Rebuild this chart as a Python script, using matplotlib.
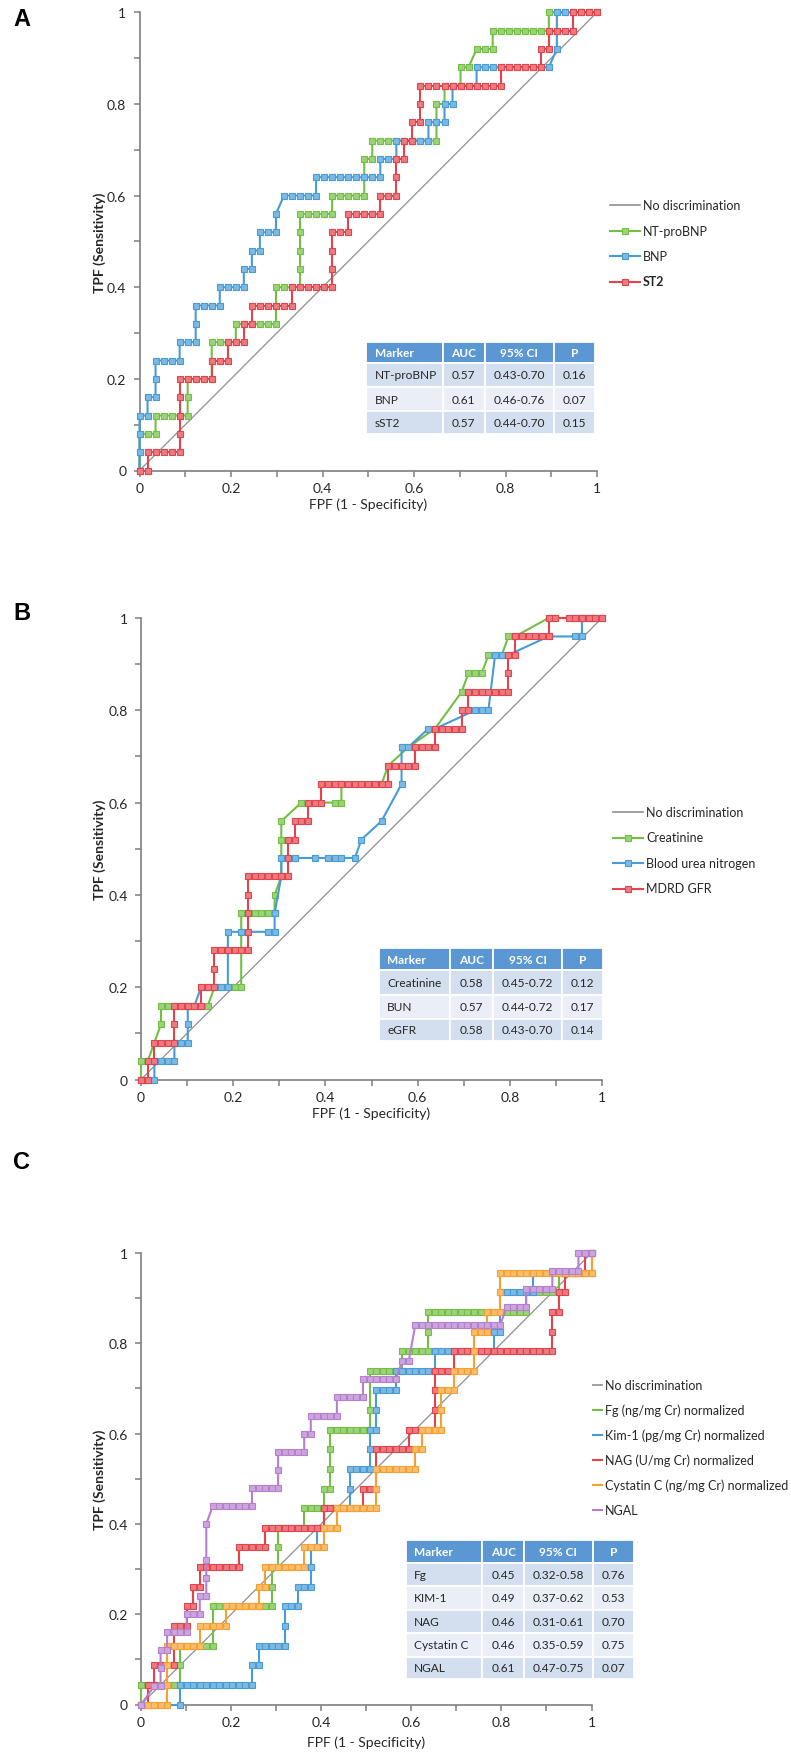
import numpy as np
import matplotlib
matplotlib.use('Agg')
import matplotlib.pyplot as plt
from matplotlib.patches import Rectangle
from matplotlib.colors import to_rgb

plt.rcParams['font.family'] = ['Lato', 'DejaVu Sans']

# ---- data: ROC points as (false positive count, true positive count) ----
# panel A: 57 negatives, 25 positives
a_nneg, a_npos = 57, 25
a_ntprobnp = [(0,0),(0,1),(0,2),(1,2),(2,2),(2,3),(3,3),(4,3),(5,3),(6,3),(6,4),(6,5),(7,5),(8,5),(9,5),(9,6),(9,7),
              (10,7),(11,7),(12,7),(12,8),(13,8),(14,8),(15,8),(16,8),(17,8),(17,9),(17,10),(18,10),(19,10),(20,10),
              (20,11),(20,12),(20,13),(20,14),(21,14),(22,14),(23,14),(24,14),(24,15),(25,15),(26,15),(27,15),(28,15),
              (28,16),(28,17),(29,17),(29,18),(30,18),(31,18),(32,18),(33,18),(34,18),(35,18),(36,18),(37,18),(37,19),
              (37,20),(38,20),(38,21),(39,21),(40,21),(40,22),(41,22),(42,23),(43,23),(44,23),(44,24),(45,24),(46,24),
              (47,24),(48,24),(49,24),(50,24),(51,24),(51,25),(52,25),(53,25),(54,25),(55,25),(56,25),(57,25)]
a_bnp = [(0,0),(0,1),(0,2),(0,3),(1,3),(1,4),(2,4),(2,5),(2,6),(3,6),(4,6),(5,6),(5,7),(6,7),(7,7),(7,8),(7,9),(8,9),
         (9,9),(10,9),(10,10),(11,10),(12,10),(13,10),(13,11),(14,11),(14,12),(15,12),(15,13),(16,13),(17,13),(17,14),
         (18,15),(19,15),(20,15),(21,15),(22,15),(22,16),(23,16),(24,16),(25,16),(26,16),(27,16),(28,16),(29,16),(30,16),
         (30,17),(31,17),(32,17),(32,18),(33,18),(34,18),(35,18),(36,18),(36,19),(37,19),(38,19),(38,20),(39,20),(39,21),
         (40,21),(41,21),(42,21),(42,22),(43,22),(44,22),(45,22),(46,22),(47,22),(48,22),(49,22),(50,22),(51,22),(52,23),
         (52,24),(52,25),(53,25),(54,25),(55,25),(56,25),(57,25)]
a_st2 = [(0,0),(1,0),(1,1),(2,1),(3,1),(4,1),(5,1),(5,2),(5,3),(5,4),(5,5),(6,5),(7,5),(8,5),(9,5),(9,6),(10,6),(11,6),
         (11,7),(12,7),(13,7),(13,8),(14,8),(14,9),(15,9),(16,9),(17,9),(18,9),(19,9),(19,10),(20,10),(21,10),(22,10),
         (23,10),(24,10),(24,11),(24,12),(24,13),(25,13),(26,13),(26,14),(27,14),(28,14),(29,14),(30,14),(30,15),(31,15),
         (32,15),(32,16),(32,17),(33,17),(33,18),(34,18),(34,19),(35,19),(35,20),(35,21),(36,21),(37,21),(38,21),(39,21),
         (40,21),(41,21),(42,21),(43,21),(44,21),(45,21),(45,22),(46,22),(47,22),(48,22),(49,22),(50,22),(50,23),(51,23),
         (51,24),(52,24),(53,24),(54,24),(54,25),(55,25),(56,25),(57,25)]

# panel B: 69 negatives, 25 positives
b_nneg, b_npos = 69, 25
b_creat = [(0,0),(0,1),(1,1),(2,2),(3,3),(3,4),(4,4),(5,4),(6,4),(7,4),(8,4),(9,4),(10,4),(11,5),(12,5),(13,5),(14,5),
           (15,5),(15,9),(16,9),(17,9),(18,9),(19,9),(20,9),(20,10),(21,11),(21,13),(21,14),(24,15),(29,15),(30,15),
           (30,16),(36,16),(37,17),(40,18),(44,19),(48,21),(49,22),(50,22),(51,22),(52,23),(53,23),(54,23),(55,24),
           (56,24),(61,25),(62,25),(65,25),(66,25),(67,25),(68,25),(69,25)]
b_bun = [(0,0),(1,0),(2,0),(2,1),(3,1),(4,1),(5,1),(5,2),(6,2),(7,2),(7,3),(7,4),(8,4),(9,5),(10,5),(12,5),(13,5),(13,7),
         (13,8),(15,8),(19,8),(20,8),(20,9),(21,11),(21,12),(23,12),(26,12),(28,12),(29,12),(30,12),(32,12),(33,13),
         (36,14),(39,16),(39,18),(40,18),(43,19),(44,19),(50,20),(51,20),(52,20),(53,23),(54,23),(55,23),(61,24),
         (65,24),(66,24),(66,25),(67,25),(68,25),(69,25)]
b_mdrd = [(0,0),(1,0),(1,1),(2,1),(2,2),(3,2),(4,2),(5,2),(5,3),(5,4),(6,4),(7,4),(8,4),(9,4),(9,5),(10,5),(11,5),(11,6),
          (11,7),(12,7),(13,7),(14,7),(15,7),(16,7),(16,8),(16,9),(16,10),(16,11),(17,11),(18,11),(19,11),(20,11),(21,11),
          (22,11),(22,12),(22,13),(23,13),(23,14),(24,14),(25,14),(25,15),(26,15),(27,15),(27,16),(28,16),(29,16),(30,16),
          (31,16),(32,16),(33,16),(34,16),(35,16),(36,16),(37,16),(37,17),(38,17),(39,17),(40,17),(41,17),(41,18),(42,18),
          (43,18),(44,18),(44,19),(45,19),(46,19),(47,19),(48,19),(48,20),(49,20),(49,21),(50,21),(51,21),(52,21),(53,21),
          (54,21),(55,21),(55,22),(55,23),(56,23),(56,24),(57,24),(58,24),(59,24),(60,24),(61,24),(61,25),(62,25),(64,25),
          (65,25),(66,25),(67,25),(68,25),(69,25)]

# panel C: 69 negatives, 23 positives (NGAL: 25 positives)
c_nneg, c_npos, c_npos_ngal = 69, 23, 25
c_fg = [(0,0),(0,1),(1,1),(2,1),(3,1),(4,1),(5,1),(6,1),(6,2),(6,3),(7,3),(8,3),(9,3),(10,3),(11,3),(11,4),(11,5),(12,5),
        (13,5),(14,5),(15,5),(16,5),(17,5),(18,5),(19,5),(20,5),(20,6),(20,7),(21,7),(21,8),(21,9),(22,9),(23,9),(24,9),
        (25,9),(25,10),(26,10),(27,10),(28,10),(28,11),(29,11),(29,12),(29,13),(29,14),(30,14),(31,14),(32,14),(33,14),
        (34,14),(35,14),(35,15),(35,17),(36,17),(37,17),(38,17),(39,17),(40,17),(40,18),(41,18),(42,18),(43,18),(44,18),
        (44,19),(44,20),(45,20),(46,20),(47,20),(48,20),(49,20),(50,20),(51,20),(52,20),(53,20),(54,20),(55,20),(56,20),
        (57,20),(58,20),(59,20),(59,21),(60,21),(61,21),(62,21),(63,21),(64,21),(64,22),(65,22),(66,22),(67,22),(68,22),
        (69,22),(69,23)]
c_kim1 = [(0,0),(6,0),(6,1),(7,1),(8,1),(9,1),(10,1),(11,1),(12,1),(13,1),(14,1),(15,1),(16,1),(17,1),(17,2),(18,2),(18,3),
          (19,3),(20,3),(21,3),(22,3),(22,4),(22,5),(23,5),(24,5),(24,6),(25,6),(26,6),(26,7),(26,8),(27,8),(27,9),(28,9),
          (28,10),(29,10),(30,10),(31,10),(32,10),(32,11),(32,12),(33,12),(34,12),(35,12),(35,13),(35,14),(36,14),(36,15),
          (36,16),(37,16),(38,16),(39,16),(39,17),(40,17),(41,17),(42,17),(43,17),(44,17),(45,17),(45,18),(46,18),(47,18),
          (48,18),(49,18),(50,18),(51,18),(52,18),(53,18),(54,18),(54,19),(55,19),(55,21),(56,21),(57,21),(58,21),(59,21),
          (60,21),(60,22),(61,22),(62,22),(63,22),(64,22),(65,22),(66,22),(67,22),(68,22),(69,22),(69,23)]
c_nag = [(0,0),(1,0),(1,1),(2,1),(2,2),(3,2),(4,2),(5,2),(5,3),(5,4),(6,4),(7,4),(7,5),(8,5),(8,6),(9,6),(9,7),(10,7),(11,7),
         (12,7),(13,7),(14,7),(15,7),(15,8),(16,8),(17,8),(18,8),(19,8),(19,9),(20,9),(21,9),(22,9),(23,9),(24,9),(25,9),
         (26,9),(27,9),(28,9),(28,10),(29,10),(30,10),(31,10),(32,10),(33,10),(34,10),(34,11),(35,11),(36,11),(36,12),
         (36,13),(37,13),(38,13),(39,13),(40,13),(41,13),(41,14),(42,14),(43,14),(44,14),(45,14),(45,15),(45,16),(45,17),
         (46,17),(47,17),(48,17),(48,18),(49,18),(50,18),(51,18),(52,18),(53,18),(54,18),(55,18),(56,18),(57,18),(58,18),
         (59,18),(60,18),(61,18),(62,18),(63,18),(63,19),(63,20),(64,20),(64,21),(65,21),(65,22),(66,22),(67,22),(68,22),
         (68,23),(69,23)]
c_cysc = [(0,0),(1,0),(2,0),(3,0),(4,0),(4,1),(4,2),(4,3),(5,3),(6,3),(7,3),(8,3),(9,3),(9,4),(10,4),(11,4),(12,4),(13,4),
          (13,5),(14,5),(15,5),(16,5),(17,5),(18,5),(18,6),(19,6),(19,7),(20,7),(21,7),(22,7),(23,7),(24,7),(25,7),(25,8),
          (26,8),(27,8),(28,8),(28,9),(29,9),(30,9),(30,10),(31,10),(32,10),(33,10),(34,10),(35,10),(36,10),(36,11),(36,12),
          (37,12),(38,12),(39,12),(40,12),(41,12),(42,12),(42,13),(43,13),(43,14),(44,14),(45,14),(46,14),(46,15),(46,16),
          (47,16),(48,16),(48,17),(49,17),(50,17),(51,17),(51,18),(51,19),(52,19),(53,19),(53,20),(54,20),(55,20),(55,21),
          (55,22),(56,22),(57,22),(58,22),(59,22),(60,22),(61,22),(62,22),(63,22),(64,22),(65,22),(66,22),(67,22),(68,22),
          (69,22),(69,23)]
c_ngal = [(0,0),(2,1),(3,1),(3,2),(3,3),(4,3),(4,4),(5,4),(6,4),(7,4),(7,5),(8,5),(9,5),(9,6),(10,6),(10,7),(10,8),(10,10),
          (11,11),(12,11),(13,11),(14,11),(15,11),(16,11),(17,11),(17,12),(18,12),(19,12),(20,12),(21,12),(21,13),(21,14),
          (22,14),(23,14),(24,14),(25,14),(25,15),(26,15),(26,16),(27,16),(28,16),(29,16),(30,16),(30,17),(31,17),(32,17),
          (33,17),(34,17),(34,18),(35,18),(36,18),(37,18),(38,18),(39,18),(40,19),(41,19),(42,21),(43,21),(44,21),(45,21),
          (46,21),(47,21),(48,21),(49,21),(50,21),(51,21),(52,21),(53,21),(54,21),(55,21),(56,22),(57,22),(58,22),(59,22),
          (59,23),(60,23),(61,23),(62,23),(63,23),(63,24),(64,24),(65,24),(66,24),(67,24),(67,25),(68,25),(69,25)]

table_head = ['Marker', 'AUC', '95% CI', 'P']
table_a = [['NT-proBNP', '0.57', '0.43-0.70', '0.16'],
           ['BNP', '0.61', '0.46-0.76', '0.07'],
           ['sST2', '0.57', '0.44-0.70', '0.15']]
table_b = [['Creatinine', '0.58', '0.45-0.72', '0.12'],
           ['BUN', '0.57', '0.44-0.72', '0.17'],
           ['eGFR', '0.58', '0.43-0.70', '0.14']]
table_c = [['Fg', '0.45', '0.32-0.58', '0.76'],
           ['KIM-1', '0.49', '0.37-0.62', '0.53'],
           ['NAG', '0.46', '0.31-0.61', '0.70'],
           ['Cystatin C', '0.46', '0.35-0.59', '0.75'],
           ['NGAL', '0.61', '0.47-0.75', '0.07']]

legend_a = ['No discrimination', 'NT-proBNP', 'BNP', 'ST2']
legend_b = ['No discrimination', 'Creatinine', 'Blood urea nitrogen', 'MDRD GFR']
legend_c = ['No discrimination', 'Fg (ng/mg Cr) normalized', 'Kim-1 (pg/mg Cr) normalized',
            'NAG (U/mg Cr) normalized', 'Cystatin C (ng/mg Cr) normalized', 'NGAL']

GREEN, BLUE, RED, ORANGE, PURPLE = '#72bf44', '#479bd6', '#e3434b', '#f7a030', '#b67ecf'
GRAY = '#8f8f8f'
AXC = '#7f7f7f'
TXT = '#262626'

W, H = 791, 1756
fig = plt.figure(figsize=(W / 100, H / 100), dpi=100)


def light(c, f=0.3):
    r, g, b = to_rgb(c)
    return (r + (1 - r) * f, g + (1 - g) * f, b + (1 - b) * f)


def make_ax(left, right, top, bottom, xlab_gap):
    ax = fig.add_axes([left / W, 1 - bottom / H, (right - left) / W, (bottom - top) / H])
    ax.set_xlim(0, 1)
    ax.set_ylim(0, 1)
    for s in ['top', 'right']:
        ax.spines[s].set_visible(False)
    for s in ['left', 'bottom']:
        ax.spines[s].set_color(AXC)
        ax.spines[s].set_linewidth(1.2)
    ticks = [0, 0.2, 0.4, 0.6, 0.8, 1]
    labs = ['0', '0.2', '0.4', '0.6', '0.8', '1']
    ax.set_xticks(ticks, labs)
    ax.set_yticks(ticks, labs)
    ax.set_xticks([0.1, 0.3, 0.5, 0.7, 0.9], minor=True)
    ax.set_yticks([0.1, 0.3, 0.5, 0.7, 0.9], minor=True)
    ax.tick_params(which='both', direction='out', length=4, width=1.1, color=AXC,
                   labelsize=10, labelcolor=TXT)
    ax.tick_params(axis='y', pad=5.5)
    ax.tick_params(axis='x', pad=4.5)
    ax.plot([0, 1], [0, 1], color=GRAY, lw=0.9, zorder=1)
    h = bottom - top
    wd = right - left
    ax.set_ylabel('TPF (Sensitivity)', fontsize=10, fontweight='bold', color=TXT)
    ax.yaxis.set_label_coords(-(left - 106) / wd, 0.5)
    ax.set_xlabel('FPF (1 - Specificity)', fontsize=10, color=TXT)
    ax.xaxis.set_label_coords(0.5, -xlab_gap / h)
    return ax


def roc(ax, pts, nneg, npos, color):
    x = [p[0] / nneg for p in pts]
    y = [p[1] / npos for p in pts]
    ax.plot(x, y, color=color, lw=1.5, marker='s', ms=4.0, mfc=light(color), mec=color, mew=0.8,
            clip_on=False, zorder=3)


def table(ax, rows, xs, ys):
    allrows = [table_head] + rows
    for i, row in enumerate(allrows):
        y1, y0 = ys[i], ys[i + 1]
        if i == 0:
            fc = '#5a97d3'
        elif i % 2 == 1:
            fc = '#d3deef'
        else:
            fc = '#e9eef7'
        for j, val in enumerate(row):
            x0, x1 = xs[j], xs[j + 1]
            ax.add_patch(Rectangle((x0, y0), x1 - x0, y1 - y0, facecolor=fc, edgecolor='white',
                                   lw=1.3, clip_on=False, zorder=5))
            kw = dict(va='center', fontsize=8.6, zorder=6, clip_on=False)
            if i == 0:
                kw.update(color='white', fontweight='bold')
            else:
                kw.update(color=TXT)
            if j == 0:
                ax.text(x0 + 0.018, (y0 + y1) / 2, val, ha='left', **kw)
            else:
                ax.text((x0 + x1) / 2, (y0 + y1) / 2, val, ha='center', **kw)


# overlay in figure pixels for legends and panel letters
ov = fig.add_axes([0, 0, 1, 1])
ov.set_xlim(0, W)
ov.set_ylim(H, 0)
ov.set_axis_off()


def legend(labels, colors, x0, ys):
    texts = []
    for i, (lab, y) in enumerate(zip(labels, ys)):
        if i == 0:
            ov.plot([x0, x0 + 30], [y, y], color=GRAY, lw=1.2)
        else:
            c = colors[i - 1]
            ov.plot([x0, x0 + 30], [y, y], color=c, lw=1.5)
            ov.plot([x0 + 15], [y], marker='s', ms=4.2, mfc=light(c), mec=c, mew=0.8)
        texts.append(ov.text(x0 + 33, y, lab, va='center', ha='left', fontsize=9, color=TXT))
    return texts


# ---- panel A ----
axa = make_ax(139.5, 597, 13.3, 471.5, 27)
roc(axa, a_ntprobnp, a_nneg, a_npos, GREEN)
roc(axa, a_bnp, a_nneg, a_npos, BLUE)
roc(axa, a_st2, a_nneg, a_npos, RED)
table(axa, table_a, [0.496, 0.663, 0.755, 0.906, 0.996], [0.281, 0.235, 0.182, 0.130, 0.080])
ta = legend(legend_a, [GREEN, BLUE, RED], 610, [206, 231.5, 257, 282.5])
ta[3].set_fontweight('bold')

# ---- panel B ----
axb = make_ax(141, 602, 619, 1080.5, 27)
roc(axb, b_creat, b_nneg, b_npos, GREEN)
roc(axb, b_bun, b_nneg, b_npos, BLUE)
roc(axb, b_mdrd, b_nneg, b_npos, RED)
table(axb, table_b, [0.516, 0.671, 0.764, 0.913, 1.002], [0.284, 0.237, 0.184, 0.132, 0.083])
legend(legend_b, [GREEN, BLUE, RED], 613, [813, 838.5, 864, 889.5])

# ---- panel C ----
axc = make_ax(141, 591.5, 1254, 1705.5, 31)
roc(axc, c_fg, c_nneg, c_npos, GREEN)
roc(axc, c_kim1, c_nneg, c_npos, BLUE)
roc(axc, c_nag, c_nneg, c_npos, RED)
roc(axc, c_cysc, c_nneg, c_npos, ORANGE)
roc(axc, c_ngal, c_nneg, c_npos_ngal, PURPLE)
table(axc, table_c, [0.588, 0.758, 0.850, 1.003, 1.095],
      [0.364, 0.313, 0.262, 0.210, 0.158, 0.106, 0.056])
legend(legend_c, [GREEN, BLUE, RED, ORANGE, PURPLE], 572, [1386, 1411, 1436, 1461, 1486, 1511])

for letter, y in [('A', 20), ('B', 614), ('C', 1163)]:
    ov.text(13, y, letter, fontsize=17, fontweight='bold', family='Liberation Sans',
            va='center', ha='left', color='black')

fig.savefig('out.png', dpi=100)
